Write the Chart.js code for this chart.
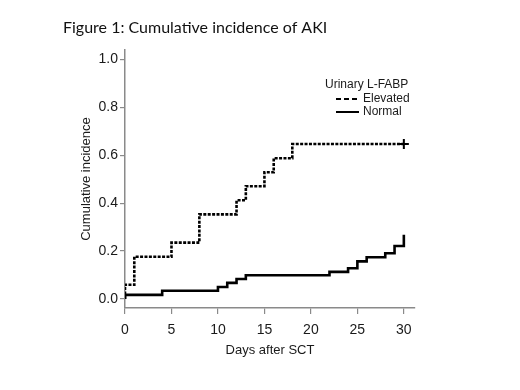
<!DOCTYPE html>
<html>
<head>
<meta charset="utf-8">
<script src="https://cdn.jsdelivr.net/npm/chart.js@4"></script>
<style>
  html, body { margin: 0; padding: 0; background: #fff; }
  #wrap { width: 520px; height: 390px; position: relative; }
</style>
</head>
<body>
<div id="wrap"><canvas id="aki"></canvas></div>
<script>
// values
const chartTitle = 'Figure 1: Cumulative incidence of AKI';
const legendTitle = 'Urinary L-FABP';
const seriesNames = ['Elevated', 'Normal'];

const elevatedDays = [0, 0, 1, 5, 8, 12, 13, 15, 16, 18, 30];
const elevatedInc = [0, 0.059, 0.176, 0.235, 0.353, 0.412, 0.471, 0.529, 0.588, 0.647, 0.647];

const normalDays = [0, 0, 4, 10, 11, 12, 13, 22, 24, 25, 26, 28, 29, 30];
const normalInc = [0, 0.017, 0.034, 0.050, 0.067, 0.083, 0.099, 0.113, 0.128, 0.157, 0.174, 0.191, 0.221, 0.268];

const xTicks = [0, 5, 10, 15, 20, 25, 30];
const yTicks = [0, 0.2, 0.4, 0.6, 0.8, 1.0];

const toPoints = (xs, ys) => xs.map((x, i) => ({ x: x, y: ys[i] }));

const axisGray = '#8a8a8a';
const textCol = '#1a1a1a';

// title + legend drawn as text on the canvas
const annotations = {
  id: 'annotations',
  afterDraw(chart) {
    const ctx = chart.ctx;
    ctx.save();
    ctx.fillStyle = '#111';
    ctx.textBaseline = 'middle';
    ctx.textAlign = 'left';
    ctx.font = '16px Lato';
    ctx.fillText(chartTitle, 63, 28);

    ctx.fillStyle = textCol;
    ctx.font = '12px "Liberation Sans"';
    ctx.fillText(legendTitle, 325, 85);
    chart.data.datasets.forEach((ds, i) => {
      const y = 99 + i * 13;
      ctx.strokeStyle = ds.borderColor;
      ctx.lineWidth = 2;
      ctx.setLineDash(ds.borderDash ? [5, 3] : []);
      ctx.beginPath();
      ctx.moveTo(336, y);
      ctx.lineTo(359, y);
      ctx.stroke();
      ctx.setLineDash([]);
      ctx.fillText(seriesNames[i], 363, y);
    });
    ctx.restore();
  }
};

new Chart(document.getElementById('aki'), {
  type: 'line',
  data: {
    datasets: [
      {
        label: seriesNames[0],
        data: toPoints(elevatedDays, elevatedInc),
        stepped: true,
        borderColor: '#000',
        borderWidth: 2.6,
        borderDash: [3, 1.4],
        pointStyle: 'cross',
        pointRadius: elevatedDays.map((d, i) => i === elevatedDays.length - 1 ? 5 : 0),
        pointBorderWidth: 2,
        pointBorderColor: '#000',
        fill: false
      },
      {
        label: seriesNames[1],
        data: toPoints(normalDays, normalInc),
        stepped: true,
        borderColor: '#000',
        borderWidth: 2.6,
        pointRadius: 0,
        fill: false
      }
    ]
  },
  options: {
    responsive: true,
    maintainAspectRatio: false,
    animation: false,
    layout: { padding: { left: 72, top: 50, right: 105, bottom: 22 } },
    plugins: {
      legend: { display: false },
      tooltip: { enabled: false }
    },
    scales: {
      x: {
        type: 'linear',
        min: 0,
        max: 31.2,
        afterFit: s => { s.height = 60; },
        afterBuildTicks: s => { s.ticks = xTicks.map(v => ({ value: v })); },
        border: { display: true, color: axisGray, width: 1.5 },
        grid: { display: true, drawOnChartArea: false, drawTicks: true, tickLength: 6, color: axisGray, lineWidth: 1.2 },
        ticks: { color: textCol, padding: 8, font: { family: 'Liberation Sans', size: 14 } },
        title: { display: true, text: 'Days after SCT', color: textCol, padding: { top: 4, bottom: 10 }, font: { family: 'Liberation Sans', size: 13 } }
      },
      y: {
        min: -0.038,
        max: 1.04,
        afterFit: s => { s.width = 53; },
        afterBuildTicks: s => { s.ticks = yTicks.map(v => ({ value: v })); },
        border: { display: true, color: axisGray, width: 1.5 },
        grid: { display: true, drawOnChartArea: false, drawTicks: true, tickLength: 5, color: axisGray, lineWidth: 1.2 },
        ticks: { color: textCol, padding: 2, font: { family: 'Liberation Sans', size: 14 }, callback: v => v.toFixed(1) },
        title: { display: true, text: 'Cumulative incidence', color: textCol, padding: { top: 7, bottom: 0 }, font: { family: 'Liberation Sans', size: 13 } }
      }
    }
  },
  plugins: [annotations]
});
</script>
</body>
</html>
